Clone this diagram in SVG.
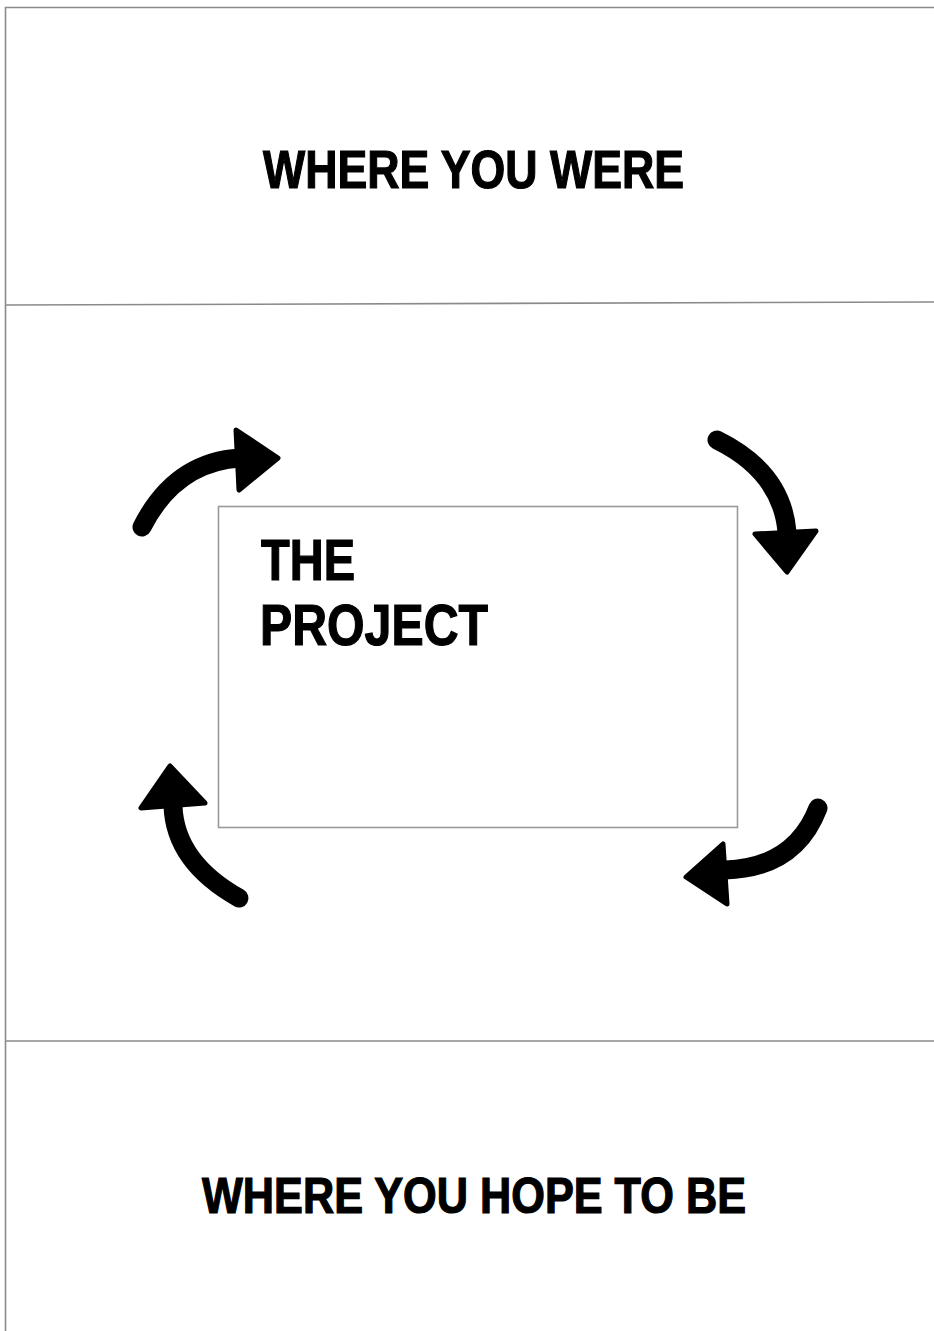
<svg xmlns="http://www.w3.org/2000/svg" width="934" height="1331" viewBox="0 0 934 1331">
<style>
.frame{stroke:#8a8a8a;stroke-width:1.6;fill:none}
.lbl{font-family:"Liberation Sans",Arial,sans-serif;font-weight:bold;fill:#000;stroke:#000;stroke-width:1.2}
.arc{stroke:#000;stroke-width:19;fill:none;stroke-linecap:round}
.head{fill:#000;stroke:#000;stroke-width:5;stroke-linejoin:round}
</style>
<rect width="934" height="1331" fill="#fff"/>
<g id="section-top">
<line class="frame" x1="5" y1="7.5" x2="934" y2="7.5"/>
<line class="frame" x1="5.5" y1="7" x2="5.5" y2="1331"/>
<text class="lbl" x="263" y="188" font-size="53" textLength="421" lengthAdjust="spacingAndGlyphs">WHERE YOU WERE</text>
</g>
<g id="section-middle">
<line class="frame" x1="5" y1="305" x2="934" y2="302"/>
<rect x="218.5" y="506.5" width="519" height="321" fill="none" stroke="#9a9a9a" stroke-width="1.6"/>
<text class="lbl" font-size="58"><tspan x="261" y="580" textLength="94" lengthAdjust="spacingAndGlyphs">THE</tspan><tspan x="260" y="645" textLength="228" lengthAdjust="spacingAndGlyphs">PROJECT</tspan></text>
</g>
<g id="section-bottom">
<line class="frame" x1="5" y1="1041" x2="934" y2="1041"/>
<text class="lbl" x="202" y="1213" font-size="50" textLength="544" lengthAdjust="spacingAndGlyphs">WHERE YOU HOPE TO BE</text>
</g>
<g id="connectors">
<path class="arc" d="M142,527 Q175,462 240,458"/>
<polygon class="head" points="236,430 278,458 239,490"/>
<path class="arc" d="M717,440 Q782,472 787,532"/>
<polygon class="head" points="755,534 816,531 787,572"/>
<path class="arc" d="M239,898 Q175,862 173,806"/>
<polygon class="head" points="141,808 205,803 170,766"/>
<path class="arc" d="M818,808 Q795,868 725,870"/>
<polygon class="head" points="723,844 727,904 686,877"/>
</g>
</svg>
